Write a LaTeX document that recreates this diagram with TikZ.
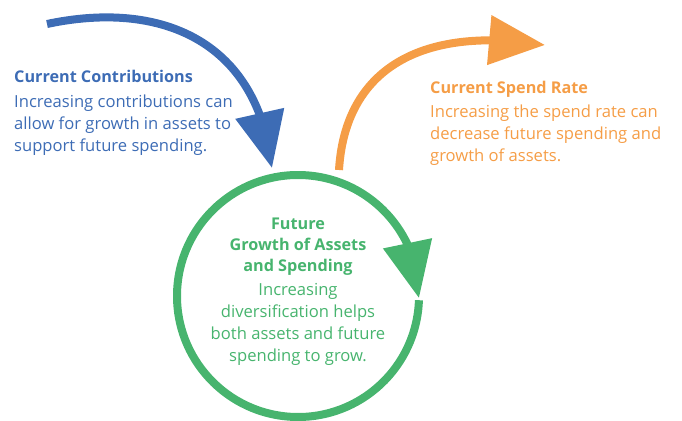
\documentclass[tikz,border=0pt]{standalone}
\usepackage{fontspec}
\setmainfont{Open Sans}
\usetikzlibrary{arrows.meta,bending,positioning}
\definecolor{cblue}{HTML}{3D6CB5}
\definecolor{corange}{HTML}{F59D46}
\definecolor{cgreen}{HTML}{47B46E}

\begin{document}
\begin{tikzpicture}[x=1pt,y=1pt,
    loop/.style={line width=8pt,-{Triangle[length=56pt,width=48pt,flex]}},
    title/.style={font=\fontsize{16.2}{21}\selectfont\bfseries,inner sep=0pt},
    body/.style={font=\fontsize{16.6}{22}\selectfont,inner sep=0pt}]
  \useasboundingbox (0,0) rectangle (682,420);

  % Contributions arrow
  \coordinate (b0) at (47,396);
  \coordinate (b1) at (272,252);
  \draw[loop,cblue] (b0) .. controls (160,420) and (258,380) .. (b1);

  % Spend rate arrow
  \coordinate (o0) at (339,250);
  \coordinate (o1) at (545,375);
  \draw[loop,corange] (o0) .. controls (345,350) and (420,395) .. (o1);

  % Growth loop
  \coordinate (hub) at (298,124);
  \draw[loop,cgreen] (hub) ++(-2:121) arc[start angle=-2,end angle=-361,radius=121];

  % Texts (base of a multi-line node = its last line)
  \node[title,text=cblue,anchor=base west] (contrib) at (14,337) {Current Contributions};
  \node[body,text=cblue,align=left,below=69pt of contrib.base west,anchor=base west] (contribtxt)
    {Increasing contributions can\\allow for growth in assets to\\support future spending.};

  \node[title,text=corange,anchor=base west] (spend) at (430,326) {Current Spend Rate};
  \node[body,text=corange,align=left,below=68pt of spend.base west,anchor=base west] (spendtxt)
    {Increasing the spend rate can\\decrease future spending and\\growth of assets.};

  \node[title,text=cgreen,align=center,anchor=base] (future) at (298,148)
    {Future\\Growth of Assets\\and Spending};
  \node[body,text=cgreen,align=center,below=90pt of future.base,anchor=base] (futuretxt)
    {Increasing\\diversification helps\\both assets and future\\spending to grow.};
\end{tikzpicture}
\end{document}
